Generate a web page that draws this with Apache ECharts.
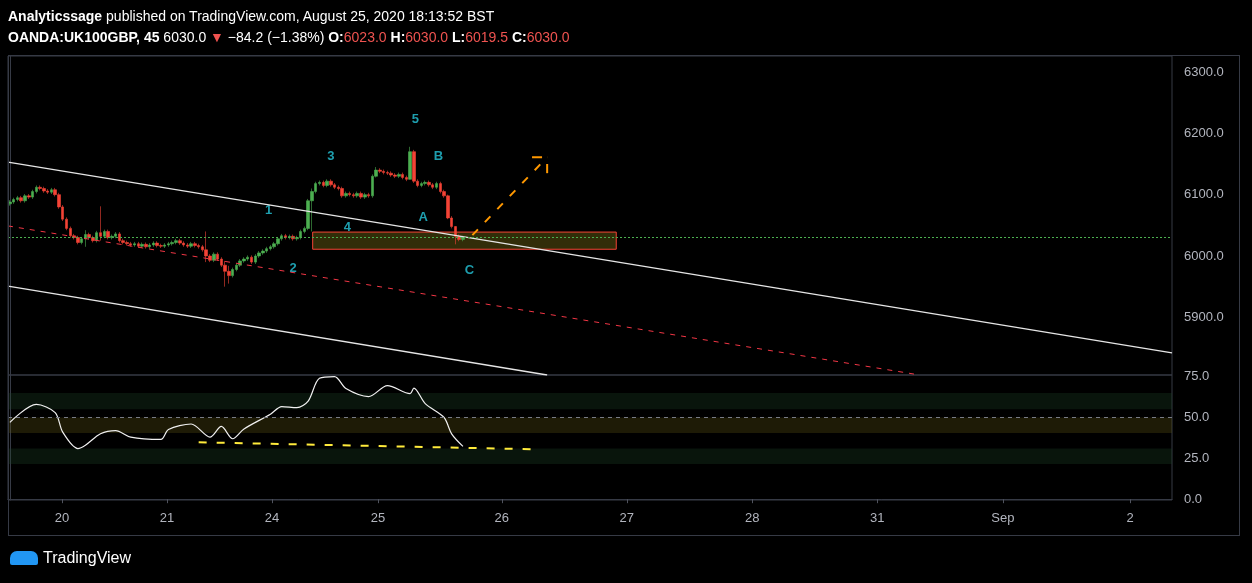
<!DOCTYPE html>
<html>
<head>
<meta charset="utf-8">
<script src="https://cdn.jsdelivr.net/npm/echarts@6/dist/echarts.min.js"></script>
<style>
  body { margin: 0; background: #000; width: 1252px; height: 583px; overflow: hidden; font-family: "Liberation Sans", Arial, sans-serif; }
  #head { position: absolute; left: 8px; top: 6px; color: #fff; font-size: 14px; line-height: 21px; }
  #head b { font-weight: bold; }
  .red { color: #ef5350; }
  #chart { position: absolute; left: 0; top: 0; width: 1252px; height: 583px; }
  #frame { position: absolute; left: 8px; top: 55px; width: 1232px; height: 481px; border: 1px solid #363a45; box-sizing: border-box; pointer-events: none; }
  #logo { position: absolute; left: 10px; top: 549px; color: #fff; font-size: 16px; display: flex; align-items: center; }
  #logo span.ic { display: inline-block; width: 28px; height: 14px; background: #2196f3; border-radius: 7px 7px 2px 2px; margin-right: 5px; }
</style>
</head>
<body>
<div id="chart"></div>
<div id="frame"></div>
<div id="head">
  <div><b>Analyticssage</b> published on TradingView.com, August 25, 2020 18:13:52 BST</div>
  <div><b>OANDA:UK100GBP, 45</b> 6030.0 <span class="red">▼</span> −84.2 (−1.38%) <b>O:</b><span class="red">6023.0</span> <b>H:</b><span class="red">6030.0</span> <b>L:</b><span class="red">6019.5</span> <b>C:</b><span class="red">6030.0</span></div>
</div>
<div id="logo"><span class="ic"></span>TradingView</div>
<script>
// closes of the 45-min candles (opens = previous close)
const closes = [
  6088,6092,6095,6090,6098,6096,
  6105,6112,6110,6106,6104,6108,
  6100,6080,6060,6045,6033,
  6030,6022,6028,6035,6030,6025,6038,6032,
  6040,6030,6032,6036,6025,6022,6020,
  6018,6020,6016,6019,6015,6018,6021,6017,6016,6018,6020,
  6022,6025,6021,6018,6016,6020,6017,6015,
  6010,6000,5993,6003,5995,
  5985,5975,5968,5978,
  5985,5992,5995,5998,5990,6000,6005,
  6008,6012,6015,6020,6028,6033,6030,6032,
  6028,6030,6040,6045,
  6090,6105,
  6118,6120,6115,6122,6116,6112,6110,
  6098,6102,6100,6098,6102,6096,6100,6098,
  6130,6140,
  6138,6136,6135,6132,6130,6133,6128,6125,
  6170,6122,
  6115,6118,6120,6116,6112,6118,
  6105,6098,6062,6048,6032,6027,6030
];
const firstOpen = 6085;
// notable wick extremes [slot, high, low]
const wickIdx = [24, 57, 58, 80, 97, 106, 116, 118, 52, 20];
const wickHigh = [6081, 5992, 5984, 6110, 6145, 6178, 6100, 6037, 6040, 6042];
const wickLow = [6025, 5950, 5955, 6040, 6128, 6130, 6060, 6019, 5990, 6015];

const rsiIdx = [0,7,12,14,18,20,24,28,32,40,42,48,53,56,59,62,69,72,76,79,82,86,89,95,100,106,107,110,115,117,120];
const rsiVal = [47,58,53,41,31,33,40,42,38,36.6,42.7,46,38,44.5,37,43,52,56.7,56,60,74,75,67.7,62.8,69.5,64.6,68,58.5,50,40,32.3];

const dateTickPos = [13.8,41.6,69.4,97.5,130.3,163.4,196.6,229.7,263,296.7];
const dateTickLabels = ['20','21','24','25','26','27','28','31','Sep','2'];
const priceTicks = [5900,6000,6100,6200,6300];
const rsiTicks = [0,25,50,75];

const waveLabels = ['1','2','3','4','5','B','A','C'];
const waveX = [68.5,75,85,89.4,107.4,113.5,109.5,121.7];
const waveY = [6075,5979,6163,6046,6222,6163,6063,5977];

const upperChannel = [[-0.5,6153],[307.8,5842]];
const lowerChannel = [[-0.5,5951],[142.3,5806]];
const midChannel = [[-0.5,6049],[241,5806]];
const projection = [[122.5,6034],[142.3,6161]];
const projHead1 = [[138.3,6161],[142.3,6161]];
const projHead2 = [[142.3,6150],[142.3,6135]];
const rsiDiv = [[50,34.8],[140,30.5]];

const candles = [];
closes.forEach((c, i) => {
  const o = i === 0 ? firstOpen : closes[i - 1];
  let h = Math.max(o, c) + 3, l = Math.min(o, c) - 3;
  const k = wickIdx.indexOf(i);
  if (k >= 0) { h = wickHigh[k]; l = wickLow[k]; }
  candles.push([i, o, c, l, h]);
});

const gray = '#b2b5be';
const chart = echarts.init(document.getElementById('chart'));
const lineS = (data, color, type, xi) => ({
  type: 'line', data, xAxisIndex: xi || 0, yAxisIndex: xi || 0, symbol: 'none', silent: true,
  lineStyle: { color, width: xi ? 2 : 1, type }
});
chart.setOption({
  backgroundColor: '#000',
  animation: false,
  grid: [
    { left: 8, right: 80, top: 56, height: 319, show: true, borderColor: '#363a45', borderWidth: 1 },
    { left: 8, right: 80, top: 375, height: 125, show: true, borderColor: '#363a45', borderWidth: 1 }
  ],
  xAxis: [
    { type: 'value', gridIndex: 0, min: -0.5, max: 307.8, axisLabel: { show: false }, axisTick: { show: false }, axisLine: { show: false }, splitLine: { show: false } },
    { type: 'value', gridIndex: 1, min: -0.5, max: 307.8, splitLine: { show: false },
      axisLine: { lineStyle: { color: '#363a45' } },
      axisTick: { customValues: dateTickPos, lineStyle: { color: '#50535e' }, length: 4 },
      axisLabel: { customValues: dateTickPos, color: gray, fontSize: 13, margin: 12,
        formatter: v => { let b = 0; dateTickPos.forEach((p, i) => { if (Math.abs(p - v) < Math.abs(dateTickPos[b] - v)) b = i; }); return dateTickLabels[b]; } } }
  ],
  yAxis: [
    { type: 'value', gridIndex: 0, position: 'right', min: 5806, max: 6326, splitLine: { show: false },
      axisLine: { show: true, lineStyle: { color: '#363a45' } },
      axisTick: { show: false },
      axisLabel: { customValues: priceTicks, color: gray, fontSize: 13, margin: 12, formatter: v => v.toFixed(1) } },
    { type: 'value', gridIndex: 1, position: 'right', min: -0.5, max: 76, splitLine: { show: false },
      axisLine: { show: true, lineStyle: { color: '#363a45' } },
      axisTick: { show: false },
      axisLabel: { customValues: rsiTicks, color: gray, fontSize: 13, margin: 12, formatter: v => v.toFixed(1) } }
  ],
  series: [
    Object.assign(lineS(upperChannel, '#e0e0e0', 'solid'), { lineStyle: { color: '#e6e6e6', width: 1.3 } }),
    Object.assign(lineS(lowerChannel, '#e6e6e6', 'solid'), { lineStyle: { color: '#e6e6e6', width: 1.3 } }),
    Object.assign(lineS(midChannel, '#f23645', [5, 6]), {
      markLine: { silent: true, symbol: 'none', label: { show: false }, lineStyle: { color: '#4caf50', type: [2, 2], width: 1 }, data: [{ yAxis: 6030 }] },
      markArea: { silent: true, itemStyle: { color: 'rgba(110,100,20,0.45)', borderColor: '#f44336', borderWidth: 1 }, data: [[{ coord: [80.2, 6039] }, { coord: [160.6, 6011] }]] }
    }),
    {
      type: 'candlestick', data: candles, barWidth: 3,
      itemStyle: { color: '#4caf50', color0: '#f44336', borderColor: '#4caf50', borderColor0: '#f44336', borderWidth: 0.6 }
    },
    Object.assign(lineS(projection, '#ff9800', [8, 10]), { lineStyle: { color: '#ff9800', width: 2, type: [8, 10] } }),
    Object.assign(lineS(projHead1, '#ff9800', 'solid'), { lineStyle: { color: '#ff9800', width: 2, type: [10, 5] } }),
    Object.assign(lineS(projHead2, '#ff9800', 'solid'), { lineStyle: { color: '#ff9800', width: 2 } }),
    {
      type: 'scatter', symbol: 'circle', symbolSize: 1, silent: true, itemStyle: { color: 'rgba(0,0,0,0)' },
      data: waveX.map((x, i) => [x, waveY[i], waveLabels[i]]),
      label: { show: true, formatter: p => p.data[2], color: '#26c6da', fontSize: 13, fontWeight: 'bold', position: 'inside' }
    },
    {
      type: 'line', xAxisIndex: 1, yAxisIndex: 1, data: rsiIdx.map((x, i) => [x, rsiVal[i]]),
      smooth: 0.3, symbol: 'none', lineStyle: { color: '#f0f0f0', width: 1.2 },
      markArea: { silent: true, data: [
        [{ yAxis: 55, itemStyle: { color: 'rgba(30,70,40,0.3)' } }, { yAxis: 65 }],
        [{ yAxis: 40.5, itemStyle: { color: 'rgba(100,90,20,0.3)' } }, { yAxis: 50 }],
        [{ yAxis: 21.5, itemStyle: { color: 'rgba(30,70,40,0.3)' } }, { yAxis: 31 }]
      ] },
      markLine: { silent: true, symbol: 'none', label: { show: false }, lineStyle: { color: '#787b86', type: [4, 4], width: 1 }, data: [{ yAxis: 50 }] }
    },
    lineS(rsiDiv, '#ffeb3b', [8, 10], 1)
  ]
});
</script>
</body>
</html>
